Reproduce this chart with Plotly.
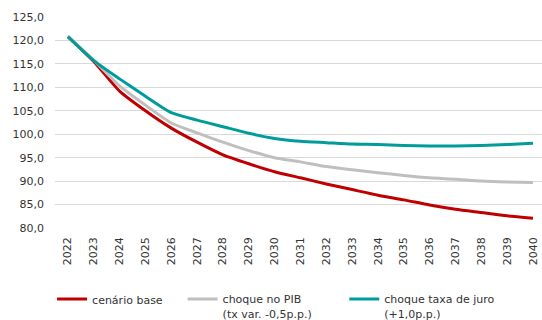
import plotly.graph_objects as go

years = [str(y) for y in range(2022, 2041)]
base = [120.8, 115.5, 109.2, 105.0, 101.3, 98.3, 95.6, 93.7, 92.0, 90.7, 89.4, 88.2, 87.0, 86.0, 84.9, 84.0, 83.3, 82.6, 82.1]
pib = [120.8, 115.8, 110.3, 106.2, 102.4, 100.3, 98.3, 96.5, 95.0, 94.1, 93.1, 92.4, 91.8, 91.2, 90.7, 90.4, 90.0, 89.8, 89.7]
juro = [120.8, 115.7, 111.8, 108.1, 104.6, 103.0, 101.6, 100.2, 99.1, 98.5, 98.2, 97.9, 97.8, 97.6, 97.5, 97.5, 97.6, 97.8, 98.1]
names = ["cenário base", "choque no PIB<br>(tx var. -0,5p.p.)", "choque taxa de juro<br>(+1,0p.p.)"]
colors = ["#C00000", "#BFBFBF", "#009B9B"]
series = [base, pib, juro]
legends = ["legend", "legend2", "legend3"]

fig = go.Figure()
for s, n, c, lg in zip(series, names, colors, legends):
    fig.add_trace(go.Scatter(x=years, y=s, name=n, mode="lines",
                             line=dict(color=c, width=3, shape="spline", smoothing=0.6),
                             legend=lg))

font = dict(family="DejaVu Sans, Verdana, sans-serif", size=11, color="#333333")
leg_common = dict(orientation="h", yanchor="top", y=-0.272, xanchor="left",
                  font=font, bgcolor="rgba(0,0,0,0)", valign="top",
                  itemwidth=30, tracegroupgap=0)

fig.update_layout(
    width=542, height=320,
    margin=dict(l=55, r=0, t=17, b=92, autoexpand=False),
    paper_bgcolor="white", plot_bgcolor="white",
    font=font,
    separators=",.",
    showlegend=True,
    legend=dict(x=-0.006, **leg_common),
    legend2=dict(x=0.262, **leg_common),
    legend3=dict(x=0.594, **leg_common),
    xaxis=dict(type="category", range=[-0.5, 18.35], tickangle=-90,
               showgrid=False, showline=False, ticks="", ticklabelstandoff=6,
               tickfont=font, automargin=False),
    yaxis=dict(range=[80, 125], dtick=5, tickformat=".1f",
               showgrid=True, gridcolor="#D9D9D9", gridwidth=1,
               zeroline=False, showline=False, ticks="", ticklabelstandoff=10,
               tickfont=font, automargin=False),
)

fig.write_html("out.html",
               config={"displayModeBar": False},
               post_script="document.body.style.margin='0';document.body.style.overflow='hidden';")
